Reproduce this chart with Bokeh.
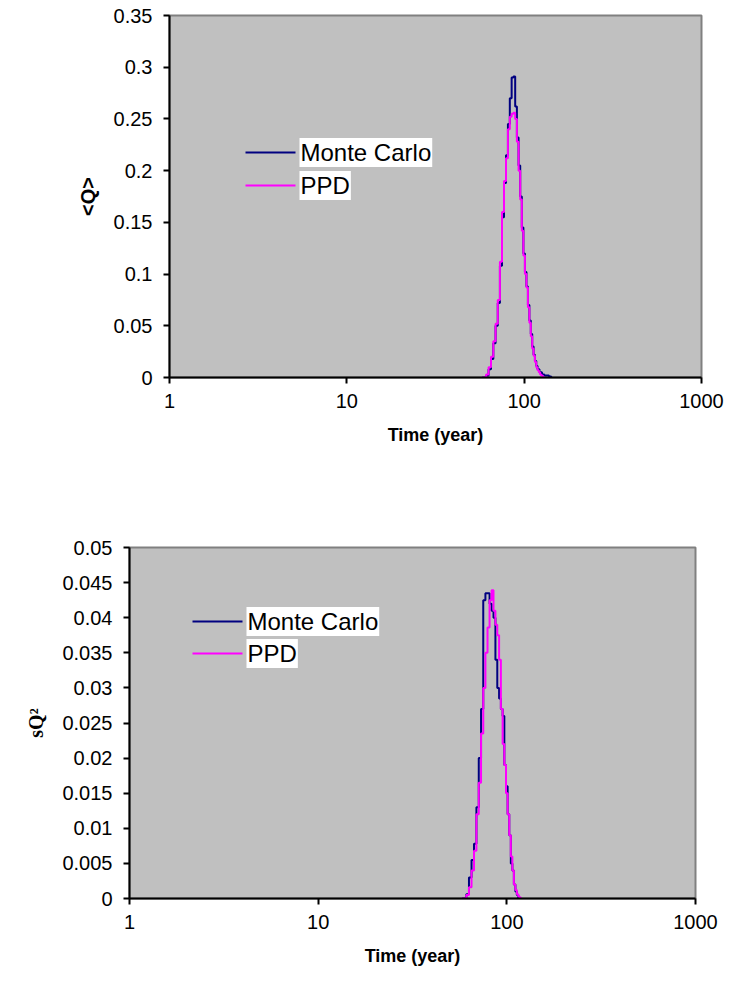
from bokeh.plotting import figure
from bokeh.models import Range1d, FixedTicker, Label
from bokeh.embed import file_html
from bokeh.resources import INLINE

# ---------------- data ----------------
x_ticks = [1, 10, 100, 1000]
x_tick_labels = ["1", "10", "100", "1000"]

q_ticks = [0, 0.05, 0.1, 0.15, 0.2, 0.25, 0.3, 0.35]
q_tick_labels = ["0", "0.05", "0.1", "0.15", "0.2", "0.25", "0.3", "0.35"]
s_ticks = [0, 0.005, 0.01, 0.015, 0.02, 0.025, 0.03, 0.035, 0.04, 0.045, 0.05]
s_tick_labels = ["0", "0.005", "0.01", "0.015", "0.02", "0.025", "0.03", "0.035", "0.04", "0.045", "0.05"]

# mean <Q>
q_mc_years = [58, 60, 62, 64, 66, 68, 70, 72, 74, 76, 78, 80, 82, 84, 86, 88, 90, 92, 94, 96,
              98, 100, 102, 104, 106, 108, 110, 112, 114, 116, 118, 120, 124, 128, 132, 136, 140, 144]
q_mc = [0.0, 0.0, 0.002, 0.008, 0.018, 0.033, 0.050, 0.072, 0.108, 0.155, 0.188, 0.215, 0.245, 0.270,
        0.290, 0.291, 0.262, 0.232, 0.205, 0.175, 0.145, 0.120, 0.102, 0.088, 0.070, 0.055, 0.042,
        0.030, 0.022, 0.016, 0.011, 0.008, 0.005, 0.003, 0.002, 0.002, 0.001, 0.0]

q_ppd_years = [58, 60, 62, 64, 66, 68, 70, 72, 74, 76, 78, 80, 82, 84, 86, 88, 90, 92, 94, 96,
               98, 100, 102, 104, 106, 108, 110, 112, 114, 116, 118, 120, 122, 124, 126, 128, 130]
q_ppd = [0.0, 0.0, 0.003, 0.010, 0.020, 0.035, 0.052, 0.075, 0.112, 0.160, 0.190, 0.212, 0.240, 0.252,
         0.255, 0.256, 0.250, 0.228, 0.200, 0.172, 0.142, 0.118, 0.100, 0.087, 0.068, 0.053, 0.040,
         0.028, 0.021, 0.015, 0.010, 0.007, 0.005, 0.003, 0.002, 0.001, 0.0]

# variance sigma_Q^2
s_mc_years = [58, 60, 62, 64, 66, 68, 70, 72, 74, 76, 78, 80, 82, 84, 86, 88, 90, 92, 94, 96,
              98, 100, 102, 104, 106, 108, 110, 112, 114, 116]
s_mc = [0.0, 0.0, 0.0006, 0.003, 0.0055, 0.0078, 0.013, 0.020, 0.027, 0.0425, 0.0435, 0.0435, 0.042,
        0.041, 0.040, 0.034, 0.030, 0.0285, 0.027, 0.026, 0.019, 0.016, 0.012, 0.009, 0.005, 0.004,
        0.002, 0.001, 0.0005, 0.0]

s_ppd_years = [58, 60, 62, 64, 66, 68, 70, 72, 74, 76, 78, 80, 82, 84, 86, 88, 90, 92, 94, 96,
               98, 100, 102, 104, 106, 108, 110, 112, 114, 116, 118, 120]
s_ppd = [0.0, 0.0, 0.0005, 0.0016, 0.004, 0.0068, 0.012, 0.0165, 0.0235, 0.030, 0.035, 0.0386, 0.0425,
         0.0439, 0.041, 0.039, 0.0375, 0.034, 0.027, 0.022, 0.019, 0.015, 0.012, 0.009, 0.006, 0.004,
         0.002, 0.0012, 0.0006, 0.0003, 0.0001, 0.0]

series_names = ["Monte Carlo", "PPD"]
series_colors = ["#000080", "#FF00FF"]

FONT = "Liberation Sans"
W = 729


def make_fig(height, left, right, top, bottom, ymax, ticks, tick_labels, ylabel, yfont):
    p = figure(width=W, height=height, x_axis_type="log",
               x_range=Range1d(1, 1000), y_range=Range1d(0, ymax),
               output_backend="svg", toolbar_location=None,
               min_border_left=left, min_border_right=right,
               min_border_top=top, min_border_bottom=bottom,
               background_fill_color="#C0C0C0", border_fill_color="white",
               outline_line_color="#808080", outline_line_width=2)
    p.grid.visible = False
    p.xaxis.ticker = FixedTicker(ticks=x_ticks)
    p.xaxis.major_label_overrides = dict(zip(x_ticks, x_tick_labels))
    p.yaxis.ticker = FixedTicker(ticks=ticks)
    p.yaxis.major_label_overrides = dict(zip(ticks, tick_labels))
    for ax in (p.xaxis, p.yaxis):
        ax.axis_line_color = "black"
        ax.axis_line_width = 2
        ax.major_tick_line_color = "black"
        ax.major_tick_line_width = 2
        ax.major_tick_out = 6
        ax.major_tick_in = 0
        ax.minor_tick_line_color = None
        ax.major_label_text_font = FONT
        ax.major_label_text_font_size = "20px"
        ax.major_label_text_color = "black"
        ax.axis_label_text_font_style = "bold"
        ax.axis_label_text_color = "black"
    p.yaxis.major_label_standoff = 11
    p.xaxis.major_label_standoff = 10
    p.xaxis.axis_label = "Time (year)"
    p.xaxis.axis_label_text_font = FONT
    p.xaxis.axis_label_text_font_size = "18px"
    p.xaxis.axis_label_standoff = 14
    p.yaxis.axis_label = ylabel
    p.yaxis.axis_label_text_font = yfont
    p.yaxis.axis_label_text_font_size = "20px"
    p.yaxis.axis_label_standoff = 12
    return p


def px_to_x(px, left, right):
    return 10 ** (3.0 * (px - left) / (right - left))


def py_to_y(py, top, bottom, ymax):
    return ymax * (bottom - py) / (bottom - top)


def add_legend(p, frame, ymax, lx0, lx1, ly_list):
    left, right, top, bottom = frame
    for name, color, ly in zip(series_names, series_colors, ly_list):
        yv = py_to_y(ly, top, bottom, ymax)
        p.segment(x0=[px_to_x(lx0, left, right)], y0=[yv],
                  x1=[px_to_x(lx1, left, right)], y1=[yv],
                  line_color=color, line_width=2)
        p.add_layout(Label(x=px_to_x(lx1 + 4, left, right), y=yv, text=name,
                           text_font=FONT, text_font_size="24px", text_color="black",
                           text_baseline="middle", text_align="left",
                           background_fill_color="white", padding=1))


# ---------------- top chart ----------------
H1 = 500
f1 = (169, 701, 15, 377)  # frame left, right, top, bottom (page px)
p1 = make_fig(H1, f1[0], W - f1[1], f1[2], H1 - f1[3], 0.35, q_ticks, q_tick_labels,
              "<Q>", FONT)
p1.step(q_mc_years, q_mc, mode="center", line_color=series_colors[0], line_width=2)
p1.step(q_ppd_years, q_ppd, mode="center", line_color=series_colors[1], line_width=2)
add_legend(p1, f1, 0.35, 245, 295, [152, 185])

# ---------------- bottom chart ----------------
H2 = 991 - H1
f2 = (129, 695, 547 - H1, 898 - H1)
p2 = make_fig(H2, f2[0], W - f2[1], f2[2], H2 - f2[3], 0.05, s_ticks, s_tick_labels,
              "sQ²", "Liberation Serif")
p2.step(s_mc_years, s_mc, mode="center", line_color=series_colors[0], line_width=2)
p2.step(s_ppd_years, s_ppd, mode="center", line_color=series_colors[1], line_width=2)
add_legend(p2, f2, 0.05, 192, 242, [621 - H1, 653 - H1])

open("out.html", "w").write(file_html([p1, p2], INLINE))
